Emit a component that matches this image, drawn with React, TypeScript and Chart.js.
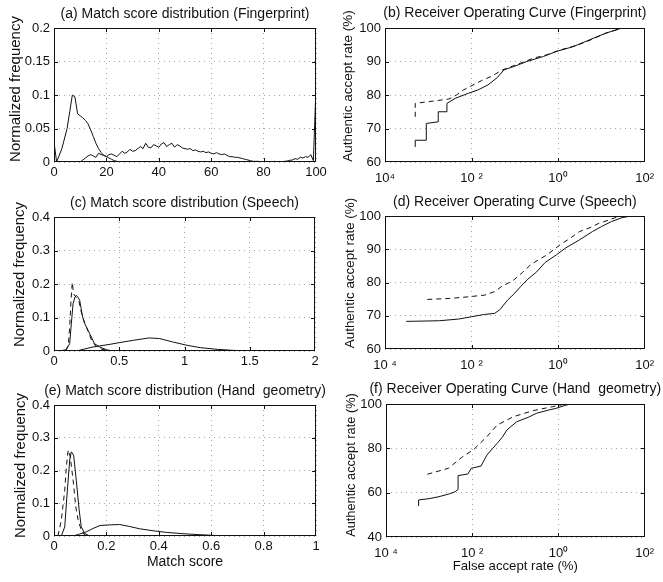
import { useEffect, useRef } from 'react';
import { Chart, registerables } from 'chart.js';

Chart.register(...registerables);

const FONT = '"Liberation Sans", Arial, Helvetica, sans-serif';

// ---------- (a) Fingerprint match score distribution ----------
const fpImpX = [0, 1, 3, 5, 6, 7, 8, 9, 10, 11, 12, 13, 14, 15, 16, 17, 18, 19, 20, 21, 22, 23, 24, 25];
const fpImpY = [0.03, 0, 0.02, 0.05, 0.075, 0.1, 0.097, 0.072, 0.069, 0.066, 0.062, 0.057, 0.048, 0.038, 0.028, 0.02, 0.014, 0.01, 0.008, 0.006, 0.004, 0.002, 0.001, 0];
const fpGenX = [10, 11, 12, 13, 14, 15, 16, 17, 18, 19, 20, 21, 22, 23, 24, 25, 26, 27, 28, 29, 30, 31, 32, 33, 34, 35, 36, 37, 38, 39, 40, 41, 42, 43, 44, 45, 46, 47, 48, 49, 50, 51, 52, 53, 54, 55, 56, 57, 58, 59, 60, 61, 62, 63, 64, 65, 66, 67, 68, 69, 70, 71, 72, 73, 74, 75, 76, 77, 78, 79, 80, 81, 82, 83, 84, 85, 86, 87, 88, 89, 90, 91, 92, 93, 94, 95, 96, 97, 98, 99, 100];
const fpGenY = [0, 0.003, 0.006, 0.009, 0.011, 0.009, 0.007, 0.013, 0.011, 0.01, 0.008, 0.011, 0.012, 0.01, 0.008, 0.012, 0.016, 0.013, 0.015, 0.019, 0.016, 0.017, 0.02, 0.023, 0.02, 0.028, 0.022, 0.021, 0.026, 0.024, 0.022, 0.027, 0.029, 0.023, 0.026, 0.028, 0.022, 0.026, 0.024, 0.021, 0.02, 0.019, 0.02, 0.017, 0.018, 0.016, 0.015, 0.016, 0.014, 0.015, 0.013, 0.012, 0.014, 0.012, 0.011, 0.012, 0.01, 0.008, 0.008, 0.007, 0.007, 0.006, 0.005, 0.004, 0.003, 0.002, 0.001, 0.001, 0.001, 0.0005, 0, 0.001, 0, 0.0005, 0.001, 0.0005, 0, 0, 0.001, 0.0015, 0.0025, 0.003, 0.005, 0.004, 0.007, 0.006, 0.008, 0.007, 0.011, 0.002, 0.113];
const fpScoreTicks = [0, 20, 40, 60, 80, 100];
const fpScoreTickLabels = ['0', '20', '40', '60', '80', '100'];
const fpFreqTicks = [0, 0.05, 0.1, 0.15, 0.2];
const fpFreqTickLabels = ['0', '0.05', '0.1', '0.15', '0.2'];

// ---------- (c) Speech match score distribution ----------
const spImpSolidX = [0.04, 0.095, 0.12, 0.133, 0.146, 0.16, 0.171, 0.185, 0.197, 0.22, 0.235, 0.26, 0.286, 0.31, 0.35, 0.4, 0.45];
const spImpSolidY = [0, 0.004, 0.022, 0.082, 0.141, 0.16, 0.166, 0.16, 0.151, 0.1, 0.082, 0.062, 0.042, 0.022, 0.012, 0.004, 0];
const spImpDashX = [0.09, 0.11, 0.12, 0.13, 0.14, 0.15, 0.17, 0.19, 0.21, 0.23, 0.25, 0.27, 0.29, 0.32, 0.36, 0.4, 0.45];
const spImpDashY = [0, 0.02, 0.07, 0.15, 0.205, 0.17, 0.16, 0.15, 0.115, 0.09, 0.07, 0.05, 0.03, 0.015, 0.006, 0.002, 0];
const spGenX = [0.17, 0.3, 0.43, 0.5, 0.61, 0.73, 0.81, 0.91, 1.02, 1.12, 1.25, 1.37, 1.5, 2];
const spGenY = [0, 0.012, 0.02, 0.025, 0.032, 0.039, 0.037, 0.027, 0.017, 0.01, 0.005, 0.002, 0, 0];
const spScoreTicks = [0, 0.5, 1, 1.5, 2];
const spScoreTickLabels = ['0', '0.5', '1', '1.5', '2'];
const freqTicks4 = [0, 0.1, 0.2, 0.3, 0.4];
const freqTickLabels4 = ['0', '0.1', '0.2', '0.3', '0.4'];

// ---------- (e) Hand geometry match score distribution ----------
const hgImpDashX = [0.015, 0.028, 0.041, 0.047, 0.054, 0.062, 0.073, 0.083, 0.092, 0.104, 0.117, 0.13];
const hgImpDashY = [0, 0.049, 0.14, 0.21, 0.263, 0.242, 0.17, 0.09, 0.049, 0.018, 0.003, 0];
const hgImpSolidX = [0.028, 0.041, 0.051, 0.06, 0.066, 0.075, 0.085, 0.096, 0.104, 0.117, 0.136];
const hgImpSolidY = [0, 0.028, 0.14, 0.232, 0.257, 0.247, 0.17, 0.08, 0.028, 0.008, 0];
const hgGenX = [0.073, 0.098, 0.124, 0.149, 0.175, 0.213, 0.251, 0.289, 0.327, 0.378, 0.429, 0.493, 0.557, 0.62, 0.684];
const hgGenY = [0, 0.006, 0.013, 0.023, 0.032, 0.034, 0.035, 0.029, 0.022, 0.016, 0.011, 0.007, 0.004, 0.0015, 0];
const hgScoreTicks = [0, 0.2, 0.4, 0.6, 0.8, 1];
const hgScoreTickLabels = ['0', '0.2', '0.4', '0.6', '0.8', '1'];

// ---------- ROC curves (x = false accept rate %, y = authentic accept rate %) ----------
const fpRocSolidX = [5e-4, 5e-4, 9e-4, 9e-4, 1.7e-3, 1.7e-3, 2.7e-3, 2.7e-3, 4.2e-3, 8.4e-3, 0.014, 0.024, 0.04, 0.056, 0.095, 0.19, 0.46, 0.91, 2.2, 5.2, 12.3, 30];
const fpRocSolidY = [64.5, 66.5, 66.5, 71.5, 72, 75, 75, 77.5, 79, 80.5, 81.5, 83, 85.3, 87.5, 88.5, 90, 91.5, 93, 94.4, 96.4, 98.4, 100];
const fpRocDashX = [5e-4, 5e-4, 1e-3, 2e-3, 3e-3, 4.5e-3, 6.5e-3, 0.017, 0.028, 0.052, 0.135, 0.27, 0.55, 1.1, 2.8, 5.6, 12.3, 26, 30];
const fpRocDashY = [73.5, 77.5, 78, 78.5, 78.8, 80, 81.5, 84.3, 85.5, 87.5, 89.5, 91, 92, 93.4, 94.9, 96.4, 98.4, 99.7, 100];

const spRocSolidX = [3.1e-4, 1.8e-3, 5e-3, 0.01, 0.02, 0.034, 0.045, 0.068, 0.1, 0.135, 0.2, 0.32, 0.5, 0.91, 1.5, 3.1, 6.2, 10, 17, 30, 49];
const spRocSolidY = [68.3, 68.5, 69, 69.7, 70.4, 70.7, 71.8, 74.7, 76.8, 78.7, 81, 83.2, 86, 88.3, 90.4, 92.8, 95.3, 96.8, 98.3, 99.5, 100];
const spRocDashX = [9.5e-4, 3e-3, 5.9e-3, 0.01, 0.02, 0.035, 0.048, 0.07, 0.095, 0.15, 0.23, 0.35, 0.55, 1.1, 2, 3.1, 5.5, 8.7, 15, 24.5, 40];
const spRocDashY = [74.9, 75.2, 75.5, 75.8, 76.2, 77.3, 78.7, 79.8, 80.8, 83, 85.3, 86.8, 88.3, 91.3, 93.5, 95.3, 96.5, 97.8, 98.8, 99.8, 100];

const hgRocSolidX = [5.7e-4, 5.7e-4, 1e-3, 1.7e-3, 3e-3, 4e-3, 4.7e-3, 4.7e-3, 7.9e-3, 9.5e-3, 0.016, 0.022, 0.03, 0.038, 0.05, 0.064, 0.108, 0.2, 0.31, 0.6, 0.87, 1.5, 2];
const hgRocSolidY = [54, 56.7, 57.3, 58.2, 59.5, 60.4, 61.5, 67.7, 68.4, 71, 72, 77, 80, 82.3, 85, 88.3, 92, 94, 95.8, 97.3, 98, 99.5, 100];
const hgRocDashX = [9.1e-4, 2.8e-3, 5.6e-3, 0.011, 0.022, 0.038, 0.091, 0.26, 0.73, 1.5];
const hgRocDashY = [68.3, 71, 75.8, 79.6, 85.3, 90.5, 94.3, 97, 98.8, 100];

const rocFarTicks = [1e-4, 1e-2, 1, 100];
const rocFarTickLabelsB = ['10⁴', '10 ²', '10⁰', '10²'];
const rocFarTickLabelsDF = ['10 ⁴', '10 ²', '10⁰', '10²'];
const rocRateTicks = [60, 70, 80, 90, 100];
const rocRateTickLabels = ['60', '70', '80', '90', '100'];
const rocRateTicksF = [40, 60, 80, 100];
const rocRateTickLabelsF = ['40', '60', '80', '100'];

type Series = { x: number[]; y: number[]; dashed?: boolean };
type Panel = {
  box: { x: number; y: number; w: number; h: number };
  area: { l: number; t: number; r: number; b: number };
  title: string;
  titleY: number;
  yLabel: string;
  yLabelX: number;
  yLabelY: number;
  yLabelSize: number;
  xLabel?: string;
  xLabelY?: number;
  xLabelSize?: number;
  xType: 'linear' | 'logarithmic';
  xMin: number;
  xMax: number;
  xTicks: number[];
  xTickLabels: string[];
  xPad: number;
  yMin: number;
  yMax: number;
  yTicks: number[];
  yTickLabels: string[];
  series: Series[];
};

const panels: Panel[] = [
  {
    box: { x: 0, y: 0, w: 331, h: 190 },
    area: { l: 54, t: 28, r: 316, b: 162 },
    title: '(a) Match score distribution (Fingerprint)', titleY: 14,
    yLabel: 'Normalized frequency', yLabelX: 15.5, yLabelY: 89, yLabelSize: 15,
    xType: 'linear', xMin: 0, xMax: 100, xTicks: fpScoreTicks, xTickLabels: fpScoreTickLabels, xPad: 3,
    yMin: 0, yMax: 0.2, yTicks: fpFreqTicks, yTickLabels: fpFreqTickLabels,
    series: [{ x: fpImpX, y: fpImpY }, { x: fpGenX, y: fpGenY }],
  },
  {
    box: { x: 331, y: 0, w: 332, h: 190 },
    area: { l: 54, t: 28, r: 319, b: 162 },
    title: '(b) Receiver Operating Curve (Fingerprint)', titleY: 13.5,
    yLabel: 'Authentic accept rate (%)', yLabelX: 17.5, yLabelY: 86, yLabelSize: 13.5,
    xType: 'logarithmic', xMin: 1e-4, xMax: 100, xTicks: rocFarTicks, xTickLabels: rocFarTickLabelsB, xPad: 9,
    yMin: 60, yMax: 100, yTicks: rocRateTicks, yTickLabels: rocRateTickLabels,
    series: [{ x: fpRocSolidX, y: fpRocSolidY }, { x: fpRocDashX, y: fpRocDashY, dashed: true }],
  },
  {
    box: { x: 0, y: 190, w: 331, h: 190 },
    area: { l: 54, t: 27, r: 315, b: 161 },
    title: '(c) Match score distribution (Speech)', titleY: 13,
    yLabel: 'Normalized frequency', yLabelX: 20, yLabelY: 84.5, yLabelSize: 14.9,
    xType: 'linear', xMin: 0, xMax: 2, xTicks: spScoreTicks, xTickLabels: spScoreTickLabels, xPad: 3,
    yMin: 0, yMax: 0.4, yTicks: freqTicks4, yTickLabels: freqTickLabels4,
    series: [
      { x: spImpSolidX, y: spImpSolidY },
      { x: spImpDashX, y: spImpDashY, dashed: true },
      { x: spGenX, y: spGenY },
    ],
  },
  {
    box: { x: 331, y: 190, w: 332, h: 190 },
    area: { l: 54, t: 26, r: 319, b: 159 },
    title: '(d) Receiver Operating Curve (Speech)', titleY: 12.5,
    yLabel: 'Authentic accept rate (%)', yLabelX: 19.5, yLabelY: 83, yLabelSize: 13.4,
    xType: 'logarithmic', xMin: 1e-4, xMax: 100, xTicks: rocFarTicks, xTickLabels: rocFarTickLabelsDF, xPad: 9,
    yMin: 60, yMax: 100, yTicks: rocRateTicks, yTickLabels: rocRateTickLabels,
    series: [{ x: spRocSolidX, y: spRocSolidY }, { x: spRocDashX, y: spRocDashY, dashed: true }],
  },
  {
    box: { x: 0, y: 380, w: 331, h: 202 },
    area: { l: 54, t: 25, r: 316, b: 156 },
    title: '(e) Match score distribution (Hand  geometry)', titleY: 11,
    yLabel: 'Normalized frequency', yLabelX: 21, yLabelY: 85.5, yLabelSize: 14.9,
    xLabel: 'Match score', xLabelY: 182.5, xLabelSize: 14,
    xType: 'linear', xMin: 0, xMax: 1, xTicks: hgScoreTicks, xTickLabels: hgScoreTickLabels, xPad: 3,
    yMin: 0, yMax: 0.4, yTicks: freqTicks4, yTickLabels: freqTickLabels4,
    series: [
      { x: hgImpDashX, y: hgImpDashY, dashed: true },
      { x: hgImpSolidX, y: hgImpSolidY },
      { x: hgGenX, y: hgGenY },
    ],
  },
  {
    box: { x: 331, y: 380, w: 332, h: 202 },
    area: { l: 55, t: 24, r: 320, b: 157 },
    title: '(f) Receiver Operating Curve (Hand  geometry)', titleY: 9,
    yLabel: 'Authentic accept rate (%)', yLabelX: 20.5, yLabelY: 85, yLabelSize: 12.8,
    xLabel: 'False accept rate (%)', xLabelY: 186, xLabelSize: 13.2,
    xType: 'logarithmic', xMin: 1e-4, xMax: 100, xTicks: rocFarTicks, xTickLabels: rocFarTickLabelsDF, xPad: 9,
    yMin: 40, yMax: 100, yTicks: rocRateTicksF, yTickLabels: rocRateTickLabelsF,
    series: [{ x: hgRocSolidX, y: hgRocSolidY }, { x: hgRocDashX, y: hgRocDashY, dashed: true }],
  },
];

function makePlugin(p: Panel) {
  return {
    id: 'matlabFrame',
    afterDatasetsDraw(chart: any) {
      const { ctx, chartArea } = chart;
      const { left, right, top, bottom } = chartArea;
      const xs = chart.scales.x;
      const ys = chart.scales.y;
      ctx.save();
      ctx.strokeStyle = '#111';
      ctx.lineWidth = 1;
      ctx.setLineDash([]);
      ctx.strokeRect(Math.round(left) + 0.5, Math.round(top) + 0.5, Math.round(right - left) - 1, Math.round(bottom - top) - 1);
      const tl = 4;
      ctx.beginPath();
      p.xTicks.forEach((v) => {
        const px = Math.round(xs.getPixelForValue(v)) + 0.5;
        if (px <= left + 1 || px >= right - 1) return;
        ctx.moveTo(px, bottom);
        ctx.lineTo(px, bottom - tl);
        ctx.moveTo(px, top);
        ctx.lineTo(px, top + tl);
      });
      p.yTicks.forEach((v) => {
        const py = Math.round(ys.getPixelForValue(v)) + 0.5;
        if (py <= top + 1 || py >= bottom - 1) return;
        ctx.moveTo(left, py);
        ctx.lineTo(left + tl, py);
        ctx.moveTo(right, py);
        ctx.lineTo(right - tl, py);
      });
      ctx.stroke();
      ctx.restore();
    },
    afterDraw(chart: any) {
      const { ctx, chartArea } = chart;
      const cx = (chartArea.left + chartArea.right) / 2;
      ctx.save();
      ctx.fillStyle = '#111';
      ctx.textAlign = 'center';
      ctx.textBaseline = 'middle';
      ctx.font = `14px ${FONT}`;
      ctx.fillText(p.title, cx, p.titleY);
      if (p.xLabel) {
        ctx.font = `${p.xLabelSize}px ${FONT}`;
        ctx.fillText(p.xLabel, cx, p.xLabelY);
      }
      ctx.translate(p.yLabelX, p.yLabelY);
      ctx.rotate(-Math.PI / 2);
      ctx.font = `${p.yLabelSize}px ${FONT}`;
      ctx.fillText(p.yLabel, 0, 0);
      ctx.restore();
    },
  };
}

function buildConfig(p: Panel): any {
  const tickFont = { family: FONT, size: 13 };
  return {
    type: 'line',
    data: {
      datasets: p.series.map((s) => ({
        data: s.x.map((x, i) => ({ x, y: s.y[i] })),
        borderColor: '#111',
        borderWidth: 1,
        borderDash: s.dashed ? [5, 4] : [],
        pointRadius: 0,
        tension: 0,
        fill: false,
      })),
    },
    options: {
      animation: false,
      responsive: false,
      devicePixelRatio: 1,
      events: [],
      layout: { padding: { left: 0, top: p.area.t, right: p.box.w - p.area.r, bottom: 0 } },
      plugins: { legend: { display: false }, tooltip: { enabled: false }, title: { display: false } },
      scales: {
        x: {
          type: p.xType,
          min: p.xMin,
          max: p.xMax,
          afterBuildTicks: (s: any) => {
            s.ticks = p.xTicks.map((v) => ({ value: v }));
          },
          afterFit: (s: any) => {
            s.height = p.box.h - p.area.b;
          },
          ticks: {
            callback: (_v: any, i: number) => p.xTickLabels[i],
            font: tickFont,
            color: '#111',
            padding: p.xPad,
            maxRotation: 0,
            autoSkip: false,
          },
          grid: { color: '#a8a8a8', drawTicks: false, lineWidth: 1 },
          border: { display: false, dash: [1, 4] },
        },
        y: {
          type: 'linear',
          min: p.yMin,
          max: p.yMax,
          afterBuildTicks: (s: any) => {
            s.ticks = p.yTicks.map((v) => ({ value: v }));
          },
          afterFit: (s: any) => {
            s.width = p.area.l;
          },
          ticks: {
            callback: (_v: any, i: number) => p.yTickLabels[i],
            font: tickFont,
            color: '#111',
            padding: 4,
            autoSkip: false,
          },
          grid: { color: '#a8a8a8', drawTicks: false, lineWidth: 1 },
          border: { display: false, dash: [1, 4] },
        },
      },
    },
    plugins: [makePlugin(p)],
  };
}

export default function App() {
  const refs = useRef<(HTMLCanvasElement | null)[]>([]);

  useEffect(() => {
    const charts = panels.map((p, i) => new Chart(refs.current[i] as HTMLCanvasElement, buildConfig(p)));
    return () => charts.forEach((c) => c.destroy());
  }, []);

  return (
    <div style={{ position: 'absolute', left: 0, top: 0, width: 663, height: 582, background: '#fff', overflow: 'hidden' }}>
      {panels.map((p, i) => (
        <canvas
          key={i}
          ref={(el) => {
            refs.current[i] = el;
          }}
          width={p.box.w}
          height={p.box.h}
          style={{ position: 'absolute', left: p.box.x, top: p.box.y, width: p.box.w, height: p.box.h, display: 'block' }}
        />
      ))}
    </div>
  );
}
